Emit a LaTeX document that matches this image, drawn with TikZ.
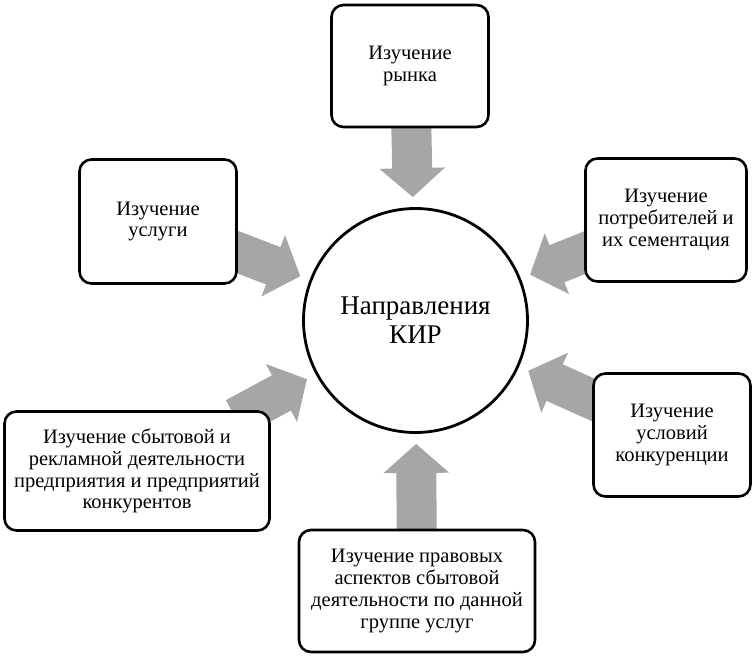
\documentclass[tikz,border=0pt]{standalone}
\usepackage{fontspec}
\setmainfont{Liberation Serif}
\usepackage{tikz}
\usetikzlibrary{arrows.meta,backgrounds}
\definecolor{strgray}{HTML}{A6A6A6}

\begin{document}
\begin{tikzpicture}[x=1pt,y=-1pt,
  blok/.style={draw,line width=2.6pt,rounded corners=12pt,fill=white,align=center,inner sep=0pt,font=\fontsize{20.5}{21.8}\selectfont},
  krug/.style={draw,circle,line width=2.8pt,fill=white,minimum size=224pt,align=center,font=\fontsize{27}{29}\selectfont},
  strelka/.style={draw=strgray,line width=40pt,-{Triangle[length=29pt,width=64pt]},shorten >=10pt,shorten <=-16pt}]
\useasboundingbox (0,0) rectangle (755,659);
%% center
\node[krug] (kir) at (415.5,320.5) {Направления\\КИР};
%% boxes
\node[blok,minimum width=157pt,minimum height=122pt] (rynok) at (410,66) {Изучение\\рынка};
\node[blok,minimum width=157pt,minimum height=124pt] (uslugi) at (158,221.5) {Изучение\\услуги};
\node[blok,minimum width=161pt,minimum height=123pt] (potreb) at (666,220) {Изучение\\потребителей и\\их сементация};
\node[blok,minimum width=157pt,minimum height=123pt] (konkur) at (672,435) {Изучение\\условий\\конкуренции};
\node[blok,minimum width=265pt,minimum height=119pt] (sbyt) at (137,471) {Изучение сбытовой и\\рекламной деятельности\\предприятия и предприятий\\конкурентов};
\node[blok,minimum width=236pt,minimum height=122pt] (pravo) at (417,591) {Изучение правовых\\аспектов сбытовой\\деятельности по данной\\группе услуг};
%% arrows
\begin{scope}[on background layer]
\draw[strelka] (rynok) -- (kir);
\draw[strelka] (uslugi) -- (kir);
\draw[strelka] (potreb) -- (kir);
\draw[strelka] (konkur) -- (kir);
\draw[strelka] (sbyt) -- (kir);
\draw[strelka] (pravo) -- (kir);
\end{scope}
\end{tikzpicture}
\end{document}
